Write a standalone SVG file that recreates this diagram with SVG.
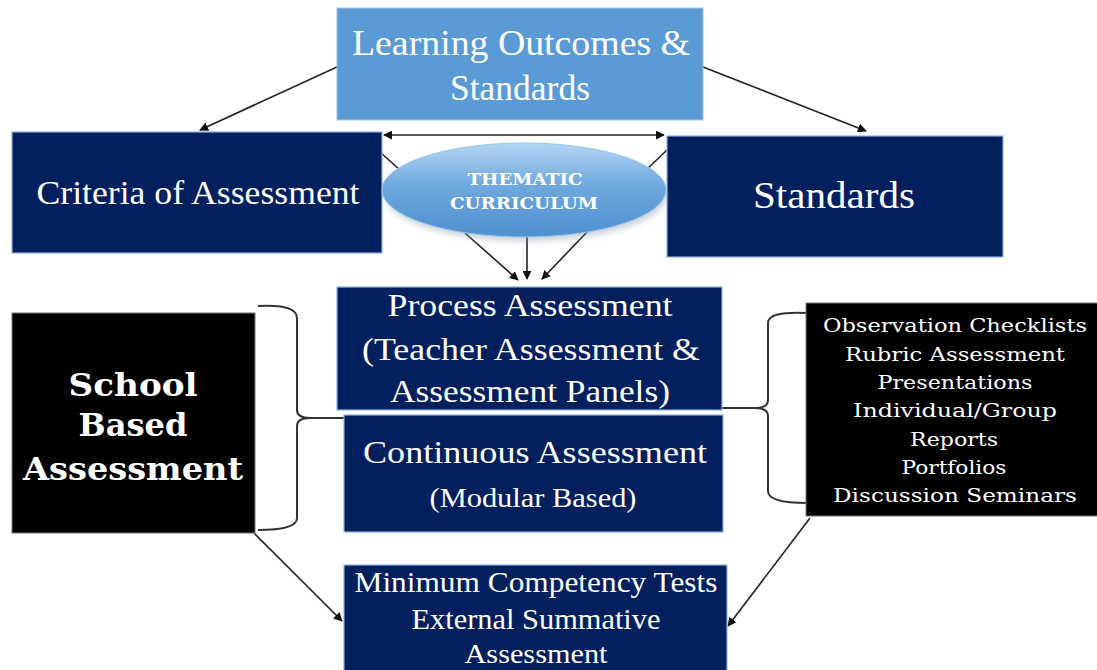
<svg xmlns="http://www.w3.org/2000/svg" width="1097" height="670" viewBox="0 0 1097 670">
<defs>
<style>
.navy{fill:#02205e;stroke:#8fb3de;stroke-width:1.2}
.blk{fill:#000;stroke:#777;stroke-width:1}
.t{font-family:"Liberation Serif","Times New Roman",serif;fill:#fff;text-anchor:middle}
.b{font-family:"DejaVu Serif","Liberation Serif",serif;font-weight:bold;fill:#fff;text-anchor:middle}
.s{font-family:"DejaVu Serif","Liberation Serif",serif;fill:#fff;text-anchor:middle;font-size:18px}
.ln{stroke:#222;stroke-width:1.6;fill:none}
.br{stroke:#333;stroke-width:2;fill:none}
</style>
<marker id="ah" viewBox="0 0 10 10" refX="9" refY="5" markerWidth="9" markerHeight="9" markerUnits="userSpaceOnUse" orient="auto-start-reverse">
<path d="M0,0 L10,5 L0,10 z" fill="#111"/>
</marker>
<linearGradient id="eg" x1="0" y1="0" x2="0" y2="1">
<stop offset="0" stop-color="#b4d6f3"/>
<stop offset="0.45" stop-color="#6ea8de"/>
<stop offset="1" stop-color="#4f90cf"/>
</linearGradient>
<filter id="sh" x="-20%" y="-20%" width="140%" height="160%">
<feGaussianBlur stdDeviation="3"/>
</filter>
</defs>
<rect width="1097" height="670" fill="#fff"/>

<g id="connectors">
<line class="ln" x1="337" y1="67" x2="200" y2="130" marker-end="url(#ah)"/>
<line class="ln" x1="703" y1="67" x2="866" y2="131" marker-end="url(#ah)"/>
<line class="ln" x1="384" y1="135" x2="664" y2="135" marker-start="url(#ah)" marker-end="url(#ah)"/>
<line class="ln" x1="362" y1="136" x2="400" y2="170"/>
<line class="ln" x1="667" y1="150" x2="646" y2="170"/>
<line class="ln" x1="465" y1="233" x2="518" y2="280" marker-end="url(#ah)"/>
<line class="ln" x1="527" y1="227" x2="527" y2="279" marker-end="url(#ah)"/>
<line class="ln" x1="587" y1="232" x2="542" y2="279" marker-end="url(#ah)"/>
<line class="ln" x1="254" y1="533" x2="342" y2="621" marker-end="url(#ah)"/>
<line class="ln" x1="810" y1="518" x2="728" y2="626" marker-end="url(#ah)"/>
<path class="br" d="M258,306 Q297,304 297,318 L297,410 Q297,418 310,418 L344,418 M310,418 Q297,418 297,426 L297,518 Q297,530 258,530"/>
<path class="br" d="M807,313 Q768,311 768,323 L768,400 Q768,408 755,408 L722,408 M755,408 Q768,408 768,416 L768,491 Q768,503 807,503"/>
</g>

<g id="learning-outcomes">
<rect x="337" y="8" width="366" height="112" fill="#5b9bd5" stroke="#9dc0e4" stroke-width="1"/>
<text class="t" x="521" y="55" font-size="35" textLength="338" lengthAdjust="spacingAndGlyphs">Learning Outcomes &amp;</text>
<text class="t" x="520" y="100" font-size="35" textLength="140" lengthAdjust="spacingAndGlyphs">Standards</text>
</g>

<g id="criteria">
<rect class="navy" x="12" y="132" width="370" height="121"/>
<text class="t" x="198" y="204" font-size="34" textLength="323" lengthAdjust="spacingAndGlyphs">Criteria of Assessment</text>
</g>

<g id="standards">
<rect class="navy" x="667" y="136" width="336" height="121"/>
<text class="t" x="834" y="208" font-size="38" textLength="162" lengthAdjust="spacingAndGlyphs">Standards</text>
</g>

<g id="thematic">
<ellipse cx="526" cy="196" rx="140" ry="45" fill="#8a9aab" opacity="0.45" filter="url(#sh)"/>
<ellipse cx="524" cy="190" rx="142" ry="47" fill="url(#eg)" stroke="#9cc5ea" stroke-width="1"/>
<text class="b" x="525" y="185" font-size="16" textLength="115" lengthAdjust="spacingAndGlyphs">THEMATIC</text>
<text class="b" x="524" y="209" font-size="16" textLength="148" lengthAdjust="spacingAndGlyphs">CURRICULUM</text>
</g>

<g id="process">
<rect class="navy" x="337" y="287" width="385" height="123"/>
<text class="t" x="530" y="316" font-size="31" textLength="285" lengthAdjust="spacingAndGlyphs">Process Assessment</text>
<text class="t" x="531" y="360" font-size="31" textLength="338" lengthAdjust="spacingAndGlyphs">(Teacher Assessment &amp;</text>
<text class="t" x="530" y="402" font-size="31" textLength="280" lengthAdjust="spacingAndGlyphs">Assessment Panels)</text>
</g>

<g id="continuous">
<rect class="navy" x="344" y="415" width="379" height="117"/>
<text class="t" x="535" y="463" font-size="31" textLength="344" lengthAdjust="spacingAndGlyphs">Continuous Assessment</text>
<text class="t" x="533" y="507" font-size="28" textLength="207" lengthAdjust="spacingAndGlyphs">(Modular Based)</text>
</g>

<g id="school-based">
<rect class="blk" x="12" y="313" width="243" height="220"/>
<text class="b" x="133" y="396" font-size="31" textLength="129" lengthAdjust="spacingAndGlyphs">School</text>
<text class="b" x="133" y="436" font-size="31" textLength="109" lengthAdjust="spacingAndGlyphs">Based</text>
<text class="b" x="133" y="480" font-size="31" textLength="220" lengthAdjust="spacingAndGlyphs">Assessment</text>
</g>

<g id="methods">
<rect class="blk" x="806" y="303" width="292" height="213"/>
<text class="s" x="955" y="332" textLength="264" lengthAdjust="spacingAndGlyphs">Observation Checklists</text>
<text class="s" x="955" y="361" textLength="220" lengthAdjust="spacingAndGlyphs">Rubric Assessment</text>
<text class="s" x="955" y="389" textLength="155" lengthAdjust="spacingAndGlyphs">Presentations</text>
<text class="s" x="955" y="417" textLength="204" lengthAdjust="spacingAndGlyphs">Individual/Group</text>
<text class="s" x="954" y="446" textLength="88" lengthAdjust="spacingAndGlyphs">Reports</text>
<text class="s" x="954" y="474" textLength="105" lengthAdjust="spacingAndGlyphs">Portfolios</text>
<text class="s" x="955" y="502" textLength="244" lengthAdjust="spacingAndGlyphs">Discussion Seminars</text>
</g>

<g id="external">
<rect class="navy" x="344" y="565" width="383" height="110"/>
<text class="t" x="536" y="592" font-size="29" textLength="363" lengthAdjust="spacingAndGlyphs">Minimum Competency Tests</text>
<text class="t" x="536" y="629" font-size="29" textLength="249" lengthAdjust="spacingAndGlyphs">External Summative</text>
<text class="t" x="536" y="663" font-size="28" textLength="143" lengthAdjust="spacingAndGlyphs">Assessment</text>
</g>
</svg>
